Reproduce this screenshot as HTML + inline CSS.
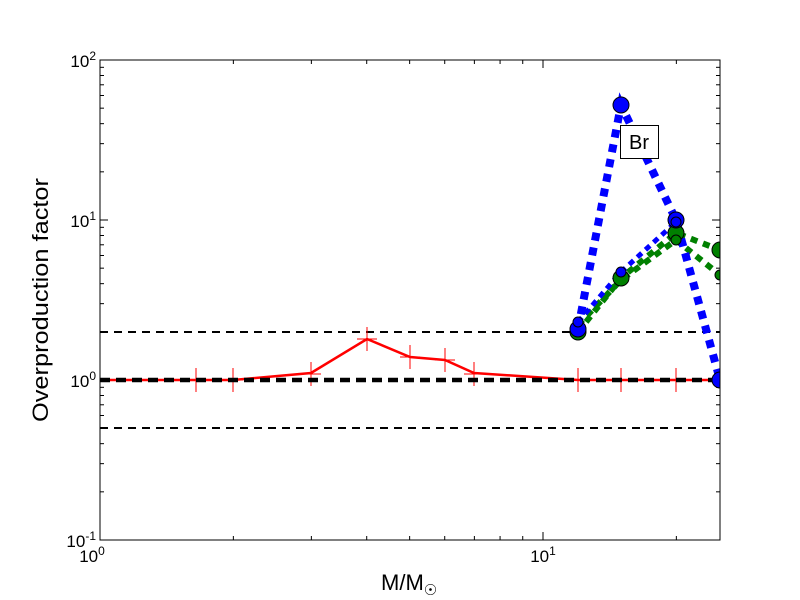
<!DOCTYPE html>
<html><head><style>body{margin:0;background:#fff}svg{display:block}text{font-family:"Liberation Sans",sans-serif;fill:#000}</style></head><body>
<svg width="800" height="600" viewBox="0 0 800 600">
<defs><clipPath id="c"><rect x="100" y="60" width="620" height="480"/></clipPath></defs>
<g id="ticks" stroke="#000" stroke-width="1"></g>
<g clip-path="url(#c)">
<line x1="100" y1="332" x2="720" y2="332" stroke="#000" stroke-width="2" stroke-dasharray="8,6"/>
<line x1="100" y1="428" x2="720" y2="428" stroke="#000" stroke-width="2" stroke-dasharray="8,6"/>
<polyline fill="none" stroke="red" stroke-width="2.5" points="100,380 196,380 233,380 311,373 367,339 410,357 445,360 474,373 578,380 621,380 676,380 720,380"/>
<g stroke="red" stroke-width="1">
<path d="M196,368v24M186,380h20 M233,368v24M223,380h20 M311,362v24M301,374h20 M367,327v24M357,339h20 M410,345v24M400,357h20 M445,348v24M435,360h20 M474,362v24M464,374h20 M578,368v24M568,380h20 M621,368v24M611,380h20 M676,368v24M666,380h20"/>
</g>
<line x1="100" y1="380" x2="720" y2="380" stroke="#000" stroke-width="4.5" stroke-dasharray="10,6"/>
<polyline fill="none" stroke="green" stroke-width="6" stroke-dasharray="7,6" points="578,332 621,278 676,233 720,250"/>
<polyline fill="none" stroke="green" stroke-width="6" stroke-dasharray="7,6" points="578,325 621,280 676,240 720,275"/>
<polyline fill="none" stroke="blue" stroke-width="8" stroke-dasharray="8,7" points="578,329 621,105 676,220 720,380"/>
<polyline fill="none" stroke="blue" stroke-width="5" stroke-dasharray="6,5" points="578,322 621,272 676,222"/>
<g fill="green" stroke="#000" stroke-width="1">
<circle cx="578" cy="332" r="8"/><circle cx="621" cy="278" r="8"/><circle cx="676" cy="233" r="8"/><circle cx="720" cy="250" r="8"/>
<circle cx="676" cy="240" r="5"/><circle cx="720" cy="275" r="5"/>
</g>
<g fill="blue" stroke="#000" stroke-width="1">
<circle cx="578" cy="329" r="8"/><circle cx="621" cy="105" r="8"/><circle cx="676" cy="220" r="8"/><circle cx="720" cy="380" r="8"/>
<circle cx="578" cy="322" r="5"/><circle cx="621" cy="272" r="5"/><circle cx="676" cy="222" r="5"/>
</g>
</g>
<rect x="620.5" y="125.5" width="38" height="33" fill="#fff" stroke="#000"/>
<text x="639" y="149" font-size="20" text-anchor="middle">Br</text>
<rect x="100" y="60" width="620" height="480" fill="none" stroke="#000" stroke-width="1"/>
<g font-size="17">
<text x="96" y="547" text-anchor="end">10<tspan font-size="12" dy="-7">-1</tspan></text>
<text x="96" y="387" text-anchor="end">10<tspan font-size="12" dy="-7">0</tspan></text>
<text x="96" y="227" text-anchor="end">10<tspan font-size="12" dy="-7">1</tspan></text>
<text x="96" y="67" text-anchor="end">10<tspan font-size="12" dy="-7">2</tspan></text>
<text x="92" y="562" text-anchor="middle">10<tspan font-size="12" dy="-7">0</tspan></text>
<text x="543" y="562" text-anchor="middle">10<tspan font-size="12" dy="-7">1</tspan></text>
</g>
<text x="381" y="590" font-size="22">M/M<tspan font-size="15" dy="5">☉</tspan></text>
<text x="48" y="300" font-size="22" text-anchor="middle" textLength="244" lengthAdjust="spacingAndGlyphs" transform="rotate(-90 48 300)">Overproduction factor</text>
</svg>
<script>
var g=document.getElementById('ticks'),s='';
function L(a,b,c,d){s+='<line x1="'+a+'" y1="'+b+'" x2="'+c+'" y2="'+d+'"/>';}
for(var e=0;e<3;e++)for(var k=1;k<10;k++){var y=540-160*(e+Math.log10(k));var len=k==1?8:4;L(100,y,100+len,y);L(720,y,720-len,y);}
for(var e=0;e<2;e++)for(var k=1;k<10;k++){var m=Math.pow(10,e)*k;if(m>25)break;var x=100+443*Math.log10(m);var len=k==1?8:4;L(x,540,x,540-len);L(x,60,x,60+len);}
g.innerHTML=s;
</script>
</body></html>
